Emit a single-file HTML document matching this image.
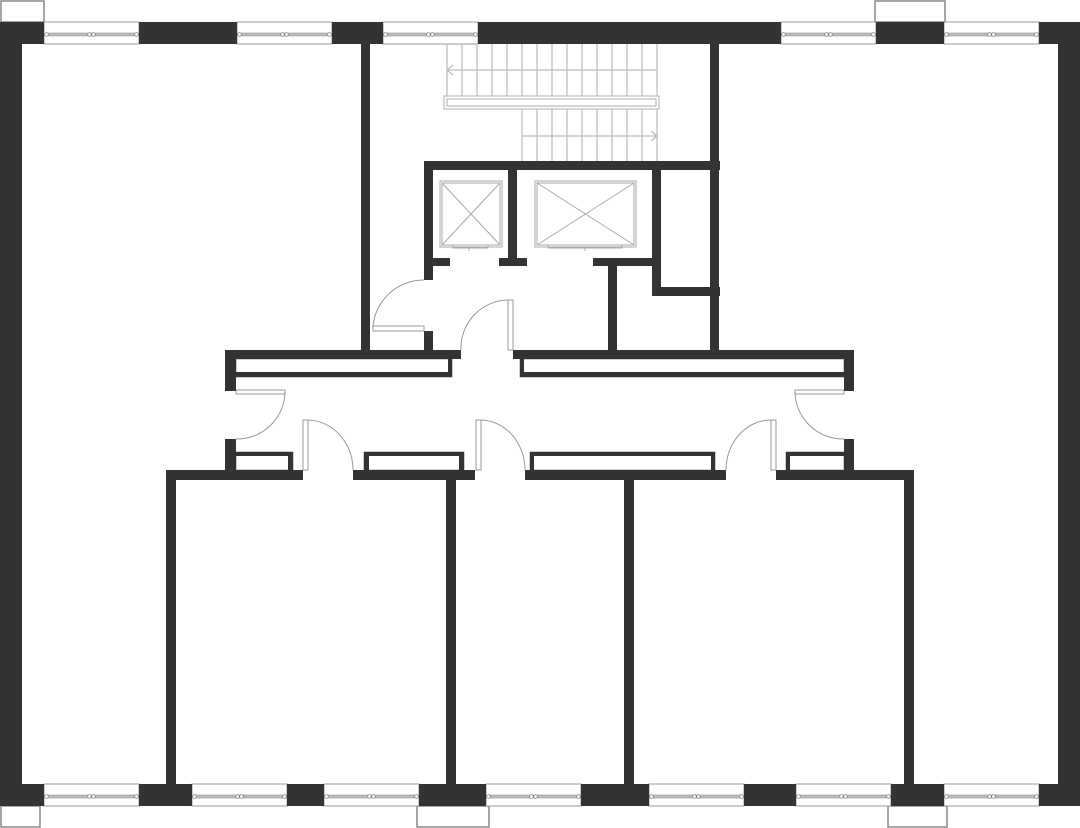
<!DOCTYPE html>
<html><head><meta charset="utf-8"><style>html,body{margin:0;padding:0;background:#fff}svg{display:block}</style></head>
<body>
<svg width="1080" height="828" viewBox="0 0 1080 828" xmlns="http://www.w3.org/2000/svg">
<defs>
<g id="win">
<rect x="0" y="0" width="95" height="22" fill="#fff" stroke="#999" stroke-width="1"/>
<rect x="1" y="11" width="93" height="3" fill="#bbb" stroke="#999" stroke-width="0.6"/>
<circle cx="2.5" cy="12.5" r="1.8" fill="#fff" stroke="#777" stroke-width="0.7"/>
<circle cx="45.5" cy="12.5" r="1.8" fill="#fff" stroke="#777" stroke-width="0.7"/>
<circle cx="49.5" cy="12.5" r="1.8" fill="#fff" stroke="#777" stroke-width="0.7"/>
<circle cx="92.5" cy="12.5" r="1.8" fill="#fff" stroke="#777" stroke-width="0.7"/>
</g>
</defs>
<!-- boxes outside -->
<g fill="#fff" stroke="#888" stroke-width="1.5">
<rect x="1" y="1" width="43" height="21"/>
<rect x="875" y="1" width="70" height="21"/>
<rect x="1" y="806" width="39" height="21"/>
<rect x="417" y="806" width="72" height="21"/>
<rect x="888" y="806" width="59" height="21"/>
</g>
<!-- windows top -->
<use href="#win" x="44" y="22"/><use href="#win" x="237" y="22"/><use href="#win" x="383" y="22"/>
<use href="#win" x="781" y="22"/><use href="#win" x="944" y="22"/>
<!-- windows bottom -->
<use href="#win" x="44" y="784"/><use href="#win" x="192" y="784"/><use href="#win" x="324" y="784"/>
<use href="#win" x="486" y="784"/><use href="#win" x="649" y="784"/><use href="#win" x="796" y="784"/><use href="#win" x="944" y="784"/>
<!-- stairs -->
<g stroke="#bbb" stroke-width="1.2" fill="none">
<path d="M447 44V96M462 44V96M477 44V96M492 44V96M507 44V96M522 44V96M537 44V96M552 44V96M567 44V96M582 44V96M597 44V96M612 44V96M627 44V96M642 44V96M657 44V96"/>
<path d="M447 70H657"/>
<path d="M453 65L447 70L453 75"/>
<path d="M522 109V161M537 109V161M552 109V161M567 109V161M582 109V161M597 109V161M612 109V161M627 109V161M642 109V161M657 109V161"/>
<path d="M522 136H657"/>
<path d="M651 131L657 136L651 141"/>
<rect x="444" y="96" width="215" height="13"/>
<rect x="447" y="99" width="209" height="7"/>
</g>
<!-- elevators -->
<g stroke="#aaa" stroke-width="1" fill="none">
<rect x="440" y="181" width="62" height="66"/>
<rect x="442" y="183" width="58" height="62"/>
<path d="M442 183L500 245M500 183L442 245"/>
<path d="M453 245V248H488V245M469 248V251"/>
<rect x="535" y="181" width="101" height="66"/>
<rect x="537" y="183" width="97" height="62"/>
<path d="M537 183L634 245M634 183L537 245"/>
<path d="M548 245V248H622V245M585 248V251"/>
</g>
<!-- doors -->
<g stroke="#999" stroke-width="1" fill="#fff">
<rect x="373" y="326" width="51" height="5"/>
<path d="M373 326A51 51 0 0 1 424 280" fill="none"/>
<rect x="508" y="300" width="5" height="50"/>
<path d="M508 300A48 48 0 0 0 461 350" fill="none"/>
<rect x="236" y="390" width="49" height="4"/>
<path d="M285 392A48 48 0 0 1 236 439" fill="none"/>
<rect x="795" y="390" width="49" height="4"/>
<path d="M795 392A48 48 0 0 0 844 439" fill="none"/>
<rect x="303" y="420" width="5" height="50"/>
<path d="M308 420A46 50 0 0 1 353 470" fill="none"/>
<rect x="476" y="420" width="5" height="50"/>
<path d="M481 420A45 50 0 0 1 525 470" fill="none"/>
<rect x="771" y="420" width="5" height="50"/>
<path d="M771 420A45 50 0 0 0 726 470" fill="none"/>
</g>
<!-- cabinets / closets -->
<g fill="#fff" stroke="#999" stroke-width="1">
<rect x="236" y="359" width="216" height="18"/>
<rect x="520" y="359" width="324" height="18"/>
<rect x="236" y="452" width="57" height="18"/>
<rect x="364" y="452" width="100" height="18"/>
<rect x="530" y="452" width="185" height="18"/>
<rect x="786" y="452" width="58" height="18"/>
</g>
<g fill="#333">
<!-- cabinet darks -->
<rect x="236" y="372" width="216" height="5"/><rect x="448" y="359" width="4" height="18"/>
<rect x="520" y="372" width="324" height="5"/><rect x="520" y="359" width="4" height="18"/>
<rect x="236" y="452" width="57" height="4"/><rect x="288" y="452" width="5" height="18"/>
<rect x="364" y="452" width="100" height="4"/><rect x="364" y="452" width="5" height="18"/><rect x="459" y="452" width="5" height="18"/>
<rect x="530" y="452" width="185" height="4"/><rect x="530" y="452" width="4" height="18"/><rect x="711" y="452" width="4" height="18"/>
<rect x="786" y="452" width="58" height="4"/><rect x="786" y="452" width="4" height="18"/>
<!-- outer walls -->
<rect x="0" y="22" width="22" height="784"/><rect x="1058" y="22" width="22" height="784"/>
<rect x="0" y="22" width="44" height="22"/><rect x="139" y="22" width="98" height="22"/><rect x="332" y="22" width="51" height="22"/>
<rect x="478" y="22" width="303" height="22"/><rect x="876" y="22" width="68" height="22"/><rect x="1039" y="22" width="41" height="22"/>
<rect x="0" y="784" width="44" height="22"/><rect x="139" y="784" width="53" height="22"/><rect x="287" y="784" width="37" height="22"/>
<rect x="419" y="784" width="67" height="22"/><rect x="581" y="784" width="68" height="22"/><rect x="744" y="784" width="52" height="22"/>
<rect x="891" y="784" width="53" height="22"/><rect x="1039" y="784" width="41" height="22"/>
<!-- core -->
<rect x="361" y="44" width="9" height="306"/>
<rect x="710" y="44" width="9" height="306"/>
<rect x="424" y="161" width="296" height="9"/>
<rect x="424" y="161" width="9" height="119"/>
<rect x="424" y="331" width="9" height="19"/>
<rect x="508" y="161" width="9" height="105"/>
<rect x="424" y="258" width="26" height="8"/>
<rect x="499" y="258" width="28" height="8"/>
<rect x="593" y="258" width="59" height="8"/>
<rect x="608" y="258" width="9" height="92"/>
<rect x="652" y="161" width="9" height="135"/>
<rect x="652" y="287" width="68" height="9"/>
<!-- corridor -->
<rect x="225" y="350" width="236" height="9"/>
<rect x="513" y="350" width="341" height="9"/>
<rect x="225" y="350" width="11" height="41"/>
<rect x="844" y="350" width="10" height="41"/>
<rect x="225" y="439" width="11" height="31"/>
<rect x="844" y="439" width="10" height="31"/>
<rect x="166" y="470" width="137" height="10"/>
<rect x="353" y="470" width="122" height="10"/>
<rect x="525" y="470" width="201" height="10"/>
<rect x="776" y="470" width="138" height="10"/>
<!-- unit walls -->
<rect x="166" y="470" width="10" height="314"/>
<rect x="446" y="470" width="10" height="314"/>
<rect x="624" y="470" width="10" height="314"/>
<rect x="904" y="470" width="10" height="314"/>
</g>
</svg>
</body></html>
